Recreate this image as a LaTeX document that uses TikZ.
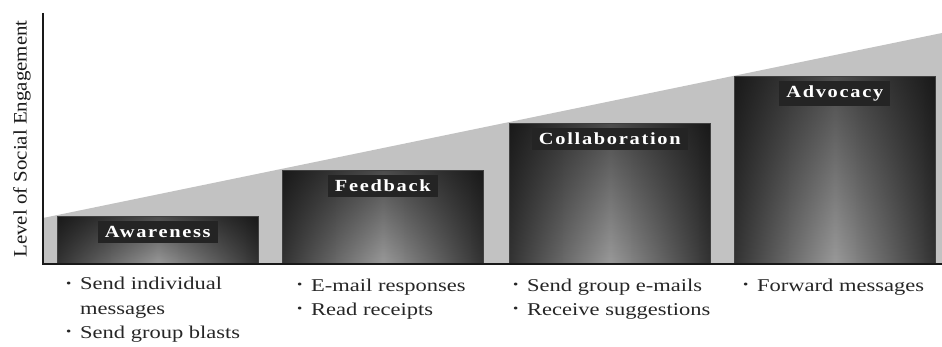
\documentclass[tikz,border=0pt]{standalone}
\usepackage{fontspec}
\setmainfont{Liberation Serif}
\newfontfamily\itemfont{Liberation Serif}[FakeStretch=1.25]
\newfontfamily\stagefont{Liberation Serif}[FakeStretch=1.2, LetterSpace=10]
\newfontfamily\axisfont{Liberation Serif}[FakeStretch=1.1]
\usetikzlibrary{fadings}
% darker band along the top of each stage bar
\tikzfading[name=topshade, top color=transparent!50, bottom color=transparent!100]
\newcommand\itemdot{\makebox[14pt][l]{\raisebox{2.5pt}{\fontsize{12}{12}\selectfont •}}}
\tikzset{
  wedge/.style={fill=black!24},
  axisline/.style={line width=1.8pt, black!90},
  stagebox/.style={anchor=south west, minimum width=201pt, inner sep=0pt,
    left color=black!80, right color=black!80, middle color=black!40,
    draw=black!75, line width=0.6pt,
    path picture={\fill[black, path fading=topshade]
      (path picture bounding box.south west) rectangle (path picture bounding box.north east);}},
  stagelabel/.style={anchor=base, inner xsep=7pt, inner ysep=5pt, text=white,
    fill=black!86, font=\stagefont\bfseries\fontsize{17}{17}\selectfont},
  itemtext/.style={anchor=base west, inner sep=0pt, text=black!85,
    font=\itemfont\fontsize{18}{18}\selectfont},
  axislabel/.style={rotate=90, inner sep=0pt, text=black!90,
    font=\axisfont\fontsize{19}{19}\selectfont}
}
\begin{document}
\begin{tikzpicture}[x=1pt, y=-1pt]
  \useasboundingbox (0,0) rectangle (942,347);

  % rising engagement wedge
  \fill[wedge] (43,264) -- (43,218) -- (942,33) -- (942,264) -- cycle;

  % stage bars
  \node[stagebox, minimum height=47pt]  (awareness) at (57,264) {};
  \node[stagebox, minimum height=93pt]  (feedback) at (282,264) {};
  \node[stagebox, minimum height=140pt] (collaboration) at (509,264) {};
  \node[stagebox, minimum height=187pt] (advocacy) at (734,264) {};

  \node[stagelabel] (awareness label) at ([yshift=-21pt]awareness.north) {Awareness};
  \node[stagelabel] (feedback label) at ([yshift=-21pt]feedback.north) {Feedback};
  \node[stagelabel] (collaboration label) at ([yshift=-21pt]collaboration.north) {Collaboration};
  \node[stagelabel] (advocacy label) at ([yshift=-21pt]advocacy.north) {Advocacy};

  % axes
  \coordinate (ytop) at (43,13);
  \coordinate (origin) at (43,264);
  \coordinate (xend) at (942,264);
  \draw[axisline] (ytop) -- (origin) -- (xend);
  \node[axislabel] (ylabel) at (22,139) {Level of Social Engagement};

  % activities under each stage
  \node[itemtext] (a1) at (66,290) {\itemdot Send individual};
  \node[itemtext] (a1b) at (80,314) {messages};
  \node[itemtext] (a2) at (66,338) {\itemdot Send group blasts};

  \node[itemtext] (f1) at (297,291) {\itemdot E-mail responses};
  \node[itemtext] (f2) at (297,315) {\itemdot Read receipts};

  \node[itemtext] (c1) at (513,291) {\itemdot Send group e-mails};
  \node[itemtext] (c2) at (513,315) {\itemdot Receive suggestions};

  \node[itemtext] (v1) at (743,291) {\itemdot Forward messages};
\end{tikzpicture}
\end{document}
